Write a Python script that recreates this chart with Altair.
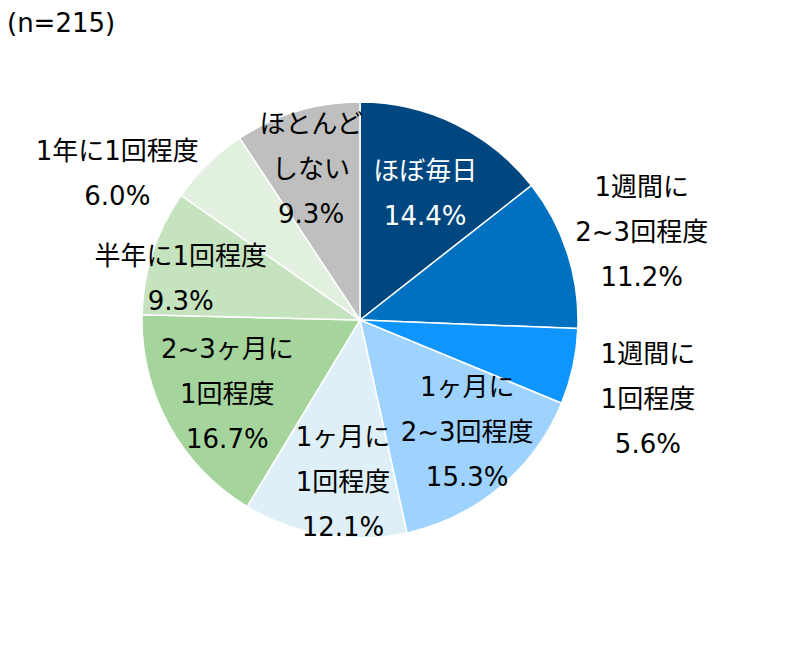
import altair as alt
import pandas as pd

# ---- data ----
categories = ["ほぼ毎日", "1週間に2~3回程度", "1週間に1回程度", "1ヶ月に2~3回程度",
              "1ヶ月に1回程度", "2~3ヶ月に1回程度", "半年に1回程度", "1年に1回程度", "ほとんどしない"]
label_lines = [["ほぼ毎日"], ["1週間に", "2~3回程度"], ["1週間に", "1回程度"], ["1ヶ月に", "2~3回程度"],
               ["1ヶ月に", "1回程度"], ["2~3ヶ月に", "1回程度"], ["半年に1回程度"], ["1年に1回程度"], ["ほとんど", "しない"]]
values = [14.4, 11.2, 5.6, 15.3, 12.1, 16.7, 9.3, 6.0, 9.3]
sample_note = "(n=215)"

# ---- styles / layout ----
colors = ["#00477F", "#0070C0", "#0F95FF", "#9FD3FF", "#DEEFF7",
          "#A6D49D", "#C6E3C0", "#E2F0DF", "#BFBFBF"]
text_colors = ["white"] + ["black"] * 8
# polar placement of each label's first line (radius px, angle shift in value units)
label_radius = [162, 311, 290, 127, 119, 136, 190, 295, 201]
label_shift = [-0.62, -1.98, -1.50, -4.87, -0.32, 4.45, 0.36, -3.06, 0.74]

rows = []
cum = 0.0
for i, (c, ll, v) in enumerate(zip(categories, label_lines, values)):
    mid = cum + v / 2
    cum += v
    rows.append({
        "idx": i, "cat": c, "value": v,
        "label": ll + [f"{v:.1f}%"],
        "mid": mid + label_shift[i],
        "lr": label_radius[i],
        "tc": text_colors[i],
    })
df = pd.DataFrame(rows)

FONT = "DejaVu Sans, Noto Sans CJK JP"

base = alt.Chart(df)

arcs = base.mark_arc(stroke="white", strokeWidth=1.5).encode(
    theta=alt.Theta("value:Q", stack=True),
    order=alt.Order("idx:Q"),
    color=alt.Color("cat:N", scale=alt.Scale(domain=categories, range=colors), legend=None),
    radius=alt.value(218),
)

labels = base.mark_text(font=FONT, fontSize=26, lineHeight=45, align="center", baseline="middle").encode(
    theta=alt.Theta("mid:Q", stack=False),
    radius=alt.Radius("lr:Q", scale=None),
    text=alt.Text("label"),
    color=alt.Color("tc:N", scale=None),
)

note = alt.Chart(alt.Data(values=[{"t": sample_note}])).mark_text(
    font=FONT, fontSize=26, align="left", baseline="middle", color="black"
).encode(text="t:N", x=alt.value(7), y=alt.value(24))

chart = alt.layer(arcs, labels, note).properties(
    width=720, height=640, padding=0, autosize=alt.AutoSizeParams(type="none"), background="white"
).configure_view(stroke=None)

chart.save("out.html", embed_options={"renderer": "svg", "actions": False})
